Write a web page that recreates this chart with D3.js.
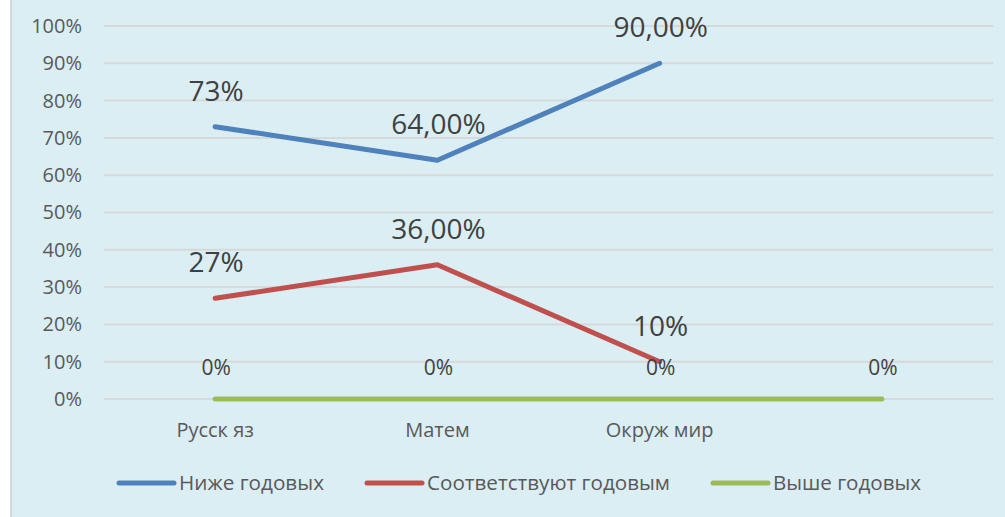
<!DOCTYPE html>
<html>
<head>
<meta charset="utf-8">
<script src="https://cdn.jsdelivr.net/npm/d3@7"></script>
<style>
body { margin: 0; background: #fff; }
.container { width: 1005px; height: 517px; }
text { font-family: "Open Sans", sans-serif; }
</style>
</head>
<body>
<div class="container"></div>
<script>
const wd = 1005
const ht = 517

// data
const categories = ["Русск яз", "Матем", "Окруж мир", ""]
const seriesNames = ["Ниже годовых", "Соответствуют годовым", "Выше годовых"]
const below = [0.73, 0.64, 0.90, null]
const match = [0.27, 0.36, 0.10, null]
const above = [0, 0, 0, 0]
const belowLabels = ["73%", "64,00%", "90,00%", ""]
const matchLabels = ["27%", "36,00%", "10%", ""]
const aboveLabels = ["0%", "0%", "0%", "0%"]
const yTicks = [0, 0.1, 0.2, 0.3, 0.4, 0.5, 0.6, 0.7, 0.8, 0.9, 1]
const colors = ["#4f81bd", "#c0504d", "#9bbb59"]

const series = [
  {name: seriesNames[0], vals: below, labels: belowLabels, color: colors[0], size: 28, dy: -26},
  {name: seriesNames[1], vals: match, labels: matchLabels, color: colors[1], size: 28, dy: -26},
  {name: seriesNames[2], vals: above, labels: aboveLabels, color: colors[2], size: 21, dy: -24}
]

const svg = d3.select(".container")
.append("svg")
.attr("width", wd)
.attr("height", ht)

// background + left border
svg.append("rect").attr("x", 11).attr("y", 0).attr("width", wd - 11).attr("height", ht).attr("fill", "#dbeef4")
svg.append("line").attr("x1", 11).attr("x2", 11).attr("y1", 0).attr("y2", ht)
.attr("stroke", "#d4d8da").attr("stroke-width", 2)

const xScale = d3.scaleBand()
.domain(d3.range(categories.length))
.range([104, 993])

const yScale = d3.scaleLinear()
.domain([0, 1])
.range([399, 26])

const cx = (i) => xScale(i) + xScale.bandwidth() / 2

// grid
svg.append("g")
.selectAll("line")
.data(yTicks)
.join("line")
.attr("x1", 104)
.attr("x2", 993)
.attr("y1", d => yScale(d))
.attr("y2", d => yScale(d))
.attr("stroke", "#d6d9da")
.attr("stroke-width", 2)

// y axis labels
const yAxis = d3.axisLeft(yScale)
.tickValues(yTicks)
.tickFormat(d => Math.round(d * 100) + "%")
.tickSize(0)
.tickPadding(0)

const yg = svg.append("g").attr("transform", "translate(82,0)").call(yAxis)
yg.select(".domain").remove()
yg.selectAll("text")
.attr("fill", "#595959")
.style("font-size", "20px")
.style("font-family", "'Open Sans', sans-serif")

// x axis labels
const xAxis = d3.axisBottom(xScale)
.tickFormat(i => categories[i])
.tickSize(0)
.tickPadding(0)

const xg = svg.append("g").attr("transform", "translate(0,423)").call(xAxis)
xg.select(".domain").remove()
xg.selectAll("text")
.attr("fill", "#595959")
.style("font-size", "20px")
.style("font-family", "'Open Sans', sans-serif")

const lineFunc = d3.line()
.defined(d => d.v !== null)
.x(d => cx(d.i))
.y(d => yScale(d.v))

const plot = svg.append("g")

series.forEach(s => {
  const pts = s.vals.map((v, i) => ({v: v, i: i}))
  plot.append("path")
  .attr("d", lineFunc(pts))
  .attr("fill", "none")
  .attr("stroke", s.color)
  .attr("stroke-width", 5)
  .attr("stroke-linecap", "round")
  .attr("stroke-linejoin", "round")
})

series.forEach(s => {
  plot.append("g")
  .selectAll("text")
  .data(s.vals.map((v, i) => ({v: v, i: i, t: s.labels[i]})).filter(d => d.v !== null))
  .join("text")
  .attr("x", d => cx(d.i) + 1)
  .attr("y", d => yScale(d.v) + s.dy)
  .attr("text-anchor", "middle")
  .attr("fill", "#404040")
  .style("font-size", s.size + "px")
  .text(d => d.t)
})

// legend
const legX = [119, 367, 713]
const legW = [145, 243, 148]
const leg = svg.append("g")
series.forEach((s, k) => {
  leg.append("line")
  .attr("x1", legX[k]).attr("x2", legX[k] + 55)
  .attr("y1", 483).attr("y2", 483)
  .attr("stroke", s.color)
  .attr("stroke-width", 5)
  .attr("stroke-linecap", "round")
  leg.append("text")
  .attr("x", legX[k] + 60)
  .attr("y", 490)
  .attr("fill", "#595959")
  .style("font-size", "20px")
  .attr("textLength", legW[k])
  .attr("lengthAdjust", "spacingAndGlyphs")
  .text(s.name)
})
</script>
</body>
</html>
